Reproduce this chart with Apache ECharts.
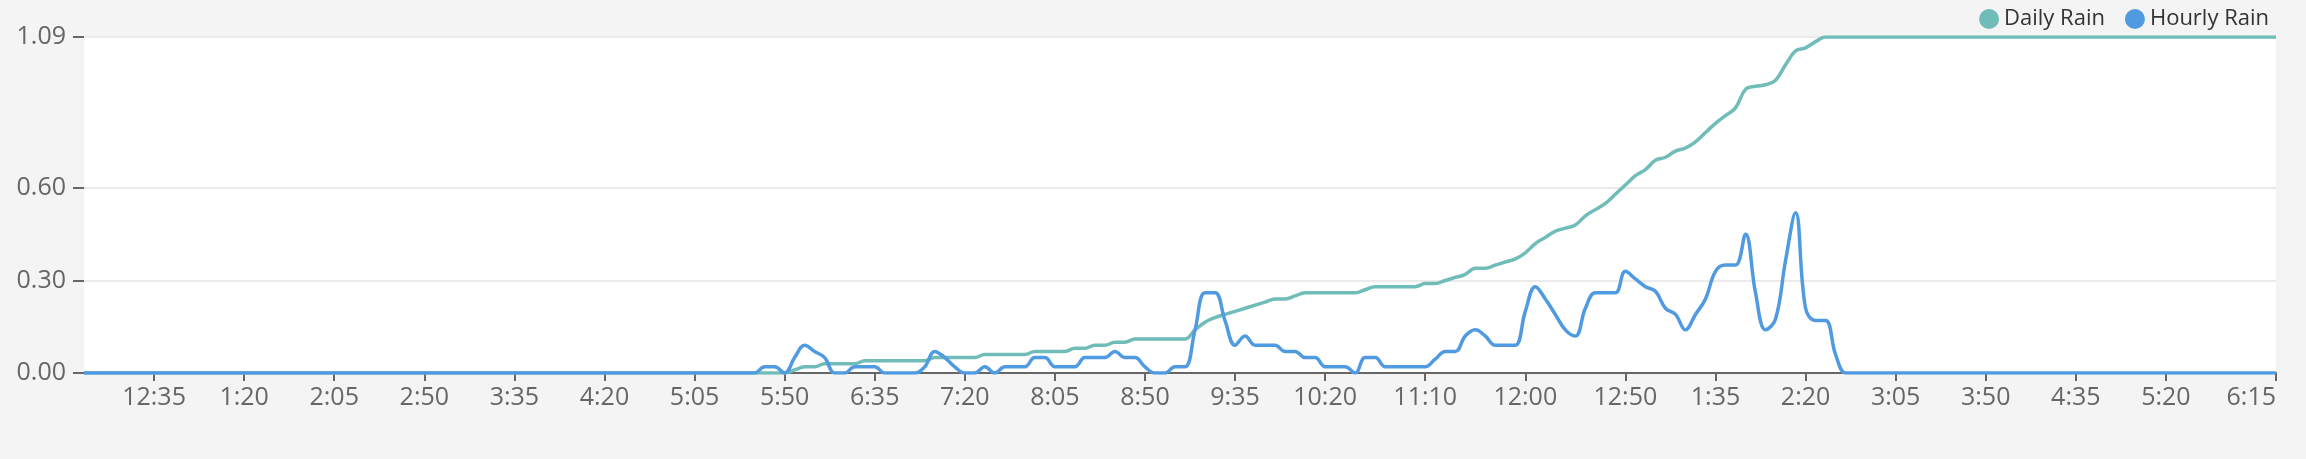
<!DOCTYPE html>
<html>
<head>
<meta charset="utf-8">
<script src="https://cdn.jsdelivr.net/npm/echarts@6/dist/echarts.min.js"></script>
<style>
  html, body { margin: 0; padding: 0; background: #f4f4f4; }
  #chart { width: 2306px; height: 459px; }
</style>
</head>
<body>
<div id="chart"></div>
<script>
// Sample times (24h clock, 5-minute readings during the rain period)
const times = [
  '00:00','05:30','05:35','05:40','05:45','05:50','05:55','06:00','06:05','06:10',
  '06:15','06:20','06:25','06:30','06:35','06:40','06:45','06:50','06:55','07:00',
  '07:05','07:10','07:15','07:20','07:25','07:30','07:35','07:40','07:45','07:50',
  '07:55','08:00','08:05','08:10','08:15','08:20','08:25','08:30','08:35','08:40',
  '08:45','08:50','08:55','09:00','09:05','09:10','09:15','09:20','09:25','09:30',
  '09:35','09:40','09:45','09:50','09:55','10:00','10:05','10:10','10:15','10:20',
  '10:25','10:30','10:35','10:40','10:45','10:50','10:55','11:00','11:05','11:10',
  '11:15','11:20','11:25','11:30','11:35','11:40','11:45','11:50','11:55','12:00',
  '12:05','12:10','12:15','12:20','12:25','12:30','12:35','12:40','12:45','12:50',
  '12:55','13:00','13:05','13:10','13:15','13:20','13:25','13:30','13:35','13:40',
  '13:45','13:50','13:55','14:00','14:05','14:10','14:15','14:20','14:25','14:30',
  '14:35','14:40','14:45','18:15'
];
const dailyRain = [
  0,0,0,0,0,0,0.01,0.02,0.02,0.03,
  0.03,0.03,0.03,0.04,0.04,0.04,0.04,0.04,0.04,0.04,
  0.05,0.05,0.05,0.05,0.05,0.06,0.06,0.06,0.06,0.06,
  0.07,0.07,0.07,0.07,0.08,0.08,0.09,0.09,0.10,0.10,
  0.11,0.11,0.11,0.11,0.11,0.11,0.14,0.165,0.18,0.19,
  0.20,0.21,0.22,0.23,0.24,0.24,0.25,0.26,0.26,0.26,
  0.26,0.26,0.26,0.27,0.28,0.28,0.28,0.28,0.28,0.29,
  0.29,0.30,0.31,0.32,0.34,0.34,0.35,0.36,0.37,0.39,
  0.42,0.44,0.46,0.47,0.48,0.51,0.53,0.55,0.58,0.61,
  0.64,0.66,0.69,0.70,0.72,0.73,0.75,0.78,0.81,0.835,
  0.86,0.92,0.93,0.935,0.95,1.00,1.045,1.055,1.075,1.09,
  1.09,1.09,1.09,1.09
];
const hourlyRain = [
  0,0,0,0.02,0.02,0,0.05,0.09,0.07,0.05,
  0,0,0.02,0.02,0.02,0,0,0,0,0.02,
  0.07,0.05,0.02,0,0,0.02,0,0.02,0.02,0.02,
  0.05,0.05,0.02,0.02,0.02,0.05,0.05,0.05,0.07,0.05,
  0.05,0.02,0,0,0.02,0.02,0.14,0.26,0.26,0.17,
  0.09,0.12,0.09,0.09,0.09,0.07,0.07,0.05,0.05,0.02,
  0.02,0.02,0,0.05,0.05,0.02,0.02,0.02,0.02,0.02,
  0.045,0.07,0.07,0.12,0.14,0.12,0.09,0.09,0.09,0.20,
  0.28,0.24,0.19,0.14,0.12,0.21,0.26,0.26,0.26,0.33,
  0.305,0.28,0.265,0.21,0.19,0.14,0.19,0.24,0.33,0.35,
  0.35,0.45,0.26,0.14,0.175,0.365,0.52,0.21,0.17,0.17,
  0.06,0,0,0
];
const xTickTimes = [
  '00:35','01:20','02:05','02:50','03:35','04:20','05:05','05:50','06:35','07:20',
  '08:05','08:50','09:35','10:20','11:10','12:00','12:50','13:35','14:20','15:05',
  '15:50','16:35','17:20','18:15'
];
const yTicks = [0, 0.30, 0.60, 1.09];
const xStart = '00:00';
const xEnd = '18:15';

function toMin(t) { const p = t.split(':'); return (+p[0]) * 60 + (+p[1]); }
function fmt12(v) {
  let h = Math.floor(v / 60) % 12; if (h === 0) h = 12;
  const m = Math.round(v % 60);
  return h + ':' + (m < 10 ? '0' + m : m);
}
const xTicks = xTickTimes.map(toMin);
const dailyData = times.map((t, i) => [toMin(t), dailyRain[i]]);
const hourlyData = times.map((t, i) => [toMin(t), hourlyRain[i]]);

const FONT = 'Open Sans';
const chart = echarts.init(document.getElementById('chart'), null, { renderer: 'canvas' });
chart.setOption({
  animation: false,
  backgroundColor: '#f4f4f4',
  textStyle: { fontFamily: FONT },
  legend: {
    right: 32, top: 3,
    icon: 'circle', itemWidth: 20, itemHeight: 20, itemGap: 20,
    textStyle: { fontSize: 22, color: '#333', fontFamily: FONT },
    data: ['Daily Rain', 'Hourly Rain']
  },
  grid: {
    left: 84, right: 30, top: 37, bottom: 86,
    show: true, backgroundColor: '#ffffff', borderWidth: 0
  },
  xAxis: {
    type: 'value',
    min: toMin(xStart), max: toMin(xEnd),
    axisLine: { show: true, lineStyle: { color: '#666', width: 2 } },
    axisTick: { show: true, length: 8, lineStyle: { color: '#666', width: 2 }, customValues: xTicks },
    axisLabel: {
      customValues: xTicks, formatter: fmt12,
      fontSize: 25, color: '#666', margin: 12, fontFamily: FONT,
      alignMaxLabel: 'right'
    },
    splitLine: { show: false }
  },
  yAxis: {
    type: 'value', min: 0, max: 1.09,
    axisLine: { show: false },
    axisTick: { show: true, length: 11, lineStyle: { color: '#666', width: 2 }, customValues: yTicks },
    axisLabel: {
      customValues: yTicks, formatter: v => v.toFixed(2),
      fontSize: 25, color: '#666', margin: 18, fontFamily: FONT
    },
    splitLine: { show: true, lineStyle: { color: '#ebebeb', width: 2 } }
  },
  series: [
    {
      name: 'Daily Rain', type: 'line', data: dailyData,
      smooth: 0.4, showSymbol: false, symbol: 'circle',
      itemStyle: { color: '#6fbcb9' },
      lineStyle: { color: '#6fbcb9', width: 3.5 }
    },
    {
      name: 'Hourly Rain', type: 'line', data: hourlyData,
      smooth: 0.4, showSymbol: false, symbol: 'circle',
      itemStyle: { color: '#4f9ae0' },
      lineStyle: { color: '#4f9ae0', width: 3.5 }
    }
  ]
});
</script>
</body>
</html>
